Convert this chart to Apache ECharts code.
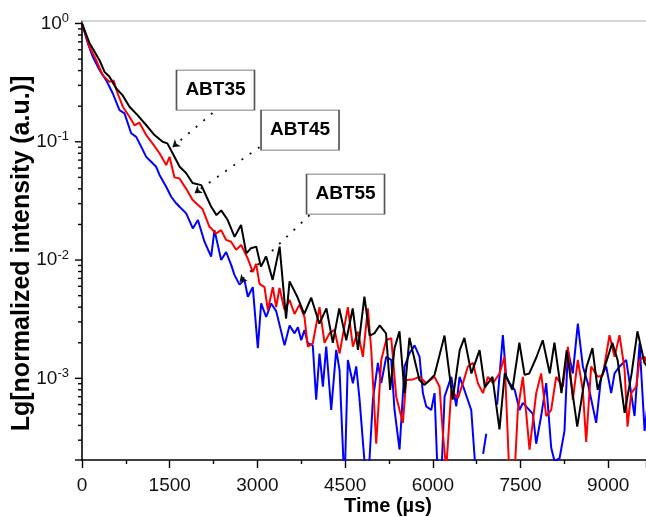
<!DOCTYPE html>
<html><head><meta charset="utf-8">
<script src="https://cdn.jsdelivr.net/npm/echarts@6/dist/echarts.min.js"></script>
<style>html,body{margin:0;padding:0;background:#fff}#c{width:646px;height:517px}</style>
</head><body><div id="c"></div>
<script>
// ---- data (time in microseconds, normalized intensity) ----
const blackT = [0,130,300,385,470,585,693,812,950,1100,1240,1380,1460,1550,1670,1780,1890,2040,2130,2210,2300,2380,2490,2610,2720,2810,2890,2980,3060,3150,3260,3380,3490,3550,3690,3800,3920,4060,4180,4290,4400,4520,4630,4720,4830,4920,5000,5090,5200,5270,5345,5430,5517,5600,5770,5860,6030,6200,6340,6460,6540,6660,6800,6890,7020,7140,7230,7360,7480,7570,7650,7770,7880,8000,8080,8200,8290,8390,8470,8630,8730,8820,8940,9070,9160,9280,9400,9500,9620,9700];
const blackV = [1.0,0.68,0.49,0.39,0.355,0.282,0.248,0.198,0.168,0.138,0.114,0.100,0.097,0.080,0.0615,0.0545,0.0448,0.043,0.0343,0.0282,0.024,0.0263,0.0219,0.0157,0.0198,0.0114,0.0126,0.0130,0.0088,0.0107,0.0068,0.0130,0.0032,0.0066,0.0048,0.0035,0.0048,0.0029,0.0039,0.0020,0.0039,0.0021,0.0039,0.00174,0.0049,0.0023,0.0024,0.0028,0.0024,0.0008,0.0018,0.0025,0.00075,0.0022,0.00097,0.00088,0.00107,0.0023,0.00066,0.00173,0.0022,0.0011,0.00173,0.00084,0.00103,0.00037,0.0011,0.0008,0.002,0.00107,0.0011,0.0015,0.0021,0.0011,0.002,0.00075,0.00173,0.00075,0.00039,0.00125,0.0018,0.0008,0.00125,0.002,0.00143,0.00051,0.0011,0.0025,0.00135,0.0012];

const redT = [0,128,243,353,470,540,610,698,812,898,983,1098,1206,1326,1440,1497,1582,1668,1782,1890,1976,2062,2180,2295,2380,2465,2550,2636,2722,2836,2921,2978,3036,3121,3178,3264,3321,3378,3464,3550,3635,3720,3805,3862,3947,4062,4148,4233,4319,4405,4547,4633,4718,4804,4889,4947,5032,5118,5203,5289,5374,5488,5545,5660,5773,5887,6030,6115,6172,6230,6315,6429,6515,6600,6686,6771,6857,6943,7028,7141,7226,7312,7397,7454,7540,7654,7768,7853,7939,8024,8110,8224,8310,8395,8480,8566,8623,8708,8822,8908,9022,9108,9193,9279,9330,9393,9479,9536,9622,9700];
const redV = [1.0,0.635,0.491,0.366,0.321,0.33,0.256,0.198,0.163,0.138,0.145,0.114,0.097,0.080,0.0635,0.0746,0.050,0.049,0.040,0.0324,0.0295,0.027,0.0191,0.0168,0.0179,0.0148,0.0143,0.0122,0.0134,0.0103,0.0079,0.0093,0.0063,0.0059,0.0038,0.0059,0.0040,0.0058,0.0038,0.0046,0.0035,0.0042,0.0033,0.00185,0.00198,0.0040,0.0020,0.0024,0.00257,0.00162,0.0040,0.00185,0.00248,0.00152,0.0039,0.00174,0.00028,0.00143,0.00211,0.00218,0.0007,0.00042,0.00097,0.00098,0.00103,0.00091,0.00103,0.00085,0.00034,0.00017,0.00079,0.00068,0.00091,0.00126,0.00135,0.00091,0.00075,0.00103,0.00091,0.0011,0.00152,0.00014,0.00015,0.00054,0.00103,0.00025,0.00075,0.0011,0.00048,0.00054,0.00103,0.00085,0.00185,0.00066,0.00143,0.00079,0.00029,0.00126,0.00103,0.00107,0.00232,0.00152,0.00232,0.0012,0.00039,0.00075,0.00085,0.00143,0.00152,0.0012];

const blueT = [0,100,185,300,413,527,641,727,841,927,1012,1098,1183,1269,1326,1440,1525,1611,1668,1782,1896,1982,2095,2209,2266,2380,2465,2551,2607,2694,2779,2836,2921,3007,3064,3150,3236,3321,3464,3550,3635,3692,3749,3805,3862,3947,4005,4062,4120,4177,4262,4348,4405,4490,4547,4633,4690,4747,4861,4890,4975,5061,5118,5203,5289,5345,5431,5517,5602,5688,5773,5830,5887,5973,6030,6087,6144,6201,6315,6401,6457,6543,6657,6742,6800,6860,6914,6970,7100,7198,7255,7312,7400,7483,7540,7711,7768,7853,7939,8024,8081,8167,8252,8310,8395,8480,8566,8651,8794,8879,8965,9051,9108,9193,9307,9450,9536,9622,9700];
const blueV = [1.0,0.68,0.522,0.404,0.332,0.256,0.185,0.174,0.118,0.110,0.091,0.0746,0.0678,0.0615,0.0525,0.0417,0.0343,0.0302,0.0282,0.0248,0.0185,0.0218,0.0143,0.0107,0.0179,0.0100,0.0117,0.0091,0.0075,0.0062,0.0068,0.0049,0.0059,0.0018,0.0043,0.0033,0.0043,0.0037,0.0019,0.0028,0.0024,0.0027,0.0021,0.00256,0.00198,0.0019,0.00066,0.00162,0.00085,0.00186,0.00054,0.00174,0.00117,0.00012,0.00143,0.00091,0.00126,0.00066,0.00013,0.00012,0.00066,0.00135,0.00091,0.00152,0.00143,0.00054,0.00025,0.00126,0.00163,0.0019,0.00152,0.00075,0.00058,0.00054,0.00075,0.00013,0.00014,0.0007,0.00103,0.00058,0.00103,0.00079,0.00054,0.00014,null,0.00023,0.00034,null,0.0006,0.00232,0.00103,0.00091,0.0008,0.00054,0.00062,0.0005,0.00028,0.00048,0.00091,0.00026,0.0002,0.00021,0.00036,0.00174,0.0011,0.0029,0.00126,0.00091,0.00042,0.00103,0.00126,0.00075,0.0011,0.00126,0.00143,0.00048,0.00198,0.00036,0.0008];

const xTickLabels = [0,1500,3000,4500,6000,7500,9000];
const yMin = 2.04e-4, yMax = 1.05;
const yMajorTicks = [0.001,0.01,0.1,1];
const yMinorTicks = [3e-4,4e-4,5e-4,6e-4,7e-4,8e-4,9e-4,2e-3,3e-3,4e-3,5e-3,6e-3,7e-3,8e-3,9e-3,0.02,0.03,0.04,0.05,0.06,0.07,0.08,0.09,0.2,0.3,0.4,0.5,0.6,0.7,0.8,0.9];

// annotations (data coordinates)
const annLabels = ['ABT35','ABT45','ABT55'];
const annBox = [[2283,0.2735],[3729,0.1256],[4507,0.0361]];
const annFrom = [[2232,0.175],[3036,0.0901],[3891,0.024]];
const annTo = [[1548,0.0901],[1924,0.0368],[2694,0.00652]];

const FONT = '"Liberation Sans", Arial, Helvetica, sans-serif';
const pairs = (T, V) => T.map((t, i) => [t, V[i]]);

function annot(i) {
  return {
    markLine: {
      silent: true, symbol: ['none', 'arrow'], symbolSize: 7,
      label: {show: false},
      lineStyle: {color: '#111', type: [2, 8], width: 1.8},
      data: [[{coord: annFrom[i]}, {coord: annTo[i]}]]
    },
    markPoint: {
      silent: true, symbol: 'rect', symbolSize: [78, 40],
      itemStyle: {color: '#fff', borderColor: '#555', borderWidth: 1.2},
      label: {show: true, position: 'inside', formatter: annLabels[i], color: '#000',
        fontSize: 19, fontWeight: 'bold', fontFamily: FONT},
      data: [{coord: annBox[i], value: annLabels[i]}]
    }
  };
}

// y-axis log ticks (major 7px, minor 4px) drawn through the axis scale
const tickData = yMajorTicks.concat([yMin]).map(v => [0, v, 7]).concat(yMinorTicks.map(v => [0, v, 4]));

const chart = echarts.init(document.getElementById('c'));
const XMAX = 9646;
chart.setOption({
  animation: false,
  backgroundColor: '#fff',
  grid: {left: 82, right: 0, top: 21, bottom: 57, containLabel: false, outerBoundsMode: 'none'},
  xAxis: [{
    type: 'value', min: 0, max: XMAX, interval: 1500, position: 'bottom',
    axisLine: {lineStyle: {color: '#000', width: 1.6}},
    axisTick: {length: 8, lineStyle: {color: '#000', width: 1.4}},
    minorTick: {show: true, splitNumber: 2, length: 4, lineStyle: {color: '#000', width: 1.4}},
    axisLabel: {fontSize: 19, color: '#111', fontFamily: FONT, margin: 16,
      formatter: v => (xTickLabels.indexOf(v) >= 0 ? String(v) : '')},
    splitLine: {show: false},
    name: 'Time (\u00b5s)', nameLocation: 'middle', nameGap: 36, nameMoveOverlap: false,
    nameTextStyle: {fontSize: 20, fontWeight: 'bold', color: '#000', fontFamily: FONT, padding: [0, 0, 0, 48]}
  }, {
    type: 'value', min: 0, max: XMAX, position: 'top',
    axisLine: {show: true, lineStyle: {color: '#c8c8c8', width: 1.5}},
    axisTick: {show: false}, axisLabel: {show: false}, splitLine: {show: false}
  }],
  yAxis: [{
    type: 'log', min: yMin, max: yMax, position: 'left',
    axisLine: {show: true, lineStyle: {color: '#000', width: 1.6}},
    axisTick: {show: false},
    axisLabel: {
      customValues: yMajorTicks, margin: 13, fontFamily: FONT,
      formatter: v => '{b|10}{s|' + Math.round(Math.log10(v)) + '}',
      rich: {
        b: {fontSize: 19, color: '#111', fontFamily: FONT},
        s: {fontSize: 13, color: '#111', fontFamily: FONT, verticalAlign: 'top', padding: [0, 0, 10, 0]}
      }
    },
    splitLine: {show: false},
    name: 'Lg[normalized intensity (a.u.)]', nameLocation: 'middle', nameGap: 47, nameMoveOverlap: false,
    nameTextStyle: {fontSize: 25, fontWeight: 'bold', color: '#000', fontFamily: FONT, padding: [0, 26, 0, 0]}
  }],
  series: [
    {type: 'custom', name: 'yticks', silent: true, clip: false, z: 10,
      data: tickData,
      renderItem: (params, api) => {
        const p = api.coord([api.value(0), api.value(1)]);
        const L = api.value(2);
        return {type: 'line', shape: {x1: p[0] - L, y1: p[1], x2: p[0], y2: p[1]},
          style: {stroke: '#000', lineWidth: 1.4}};
      }},
    Object.assign({type: 'line', name: 'ABT55', data: pairs(blueT, blueV), showSymbol: false,
      connectNulls: false, lineStyle: {color: '#0000ff', width: 2}, itemStyle: {color: '#0000ff'}, z: 2}, annot(2)),
    Object.assign({type: 'line', name: 'ABT45', data: pairs(redT, redV), showSymbol: false,
      connectNulls: false, lineStyle: {color: '#ff0000', width: 2}, itemStyle: {color: '#ff0000'}, z: 3}, annot(1)),
    Object.assign({type: 'line', name: 'ABT35', data: pairs(blackT, blackV), showSymbol: false,
      connectNulls: false, lineStyle: {color: '#000000', width: 2}, itemStyle: {color: '#000'}, z: 4}, annot(0))
  ]
});
</script>
</body></html>
